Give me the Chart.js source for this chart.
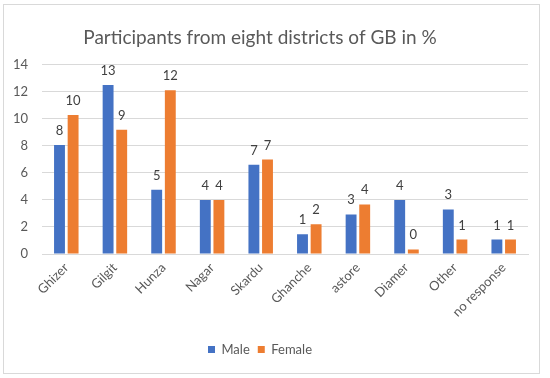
<!DOCTYPE html>
<html>
<head>
<meta charset="utf-8">
<script src="https://cdn.jsdelivr.net/npm/chart.js@4.4.1/dist/chart.umd.min.js"></script>
<style>
	html, body { margin:0; padding:0; background:#fff; overflow:hidden; width:550px; height:378px; }
	#frame { position:absolute; left:3px; top:4px; width:535px; height:368px; border:1px solid #d9d9d9; }
	#wrap { position:absolute; left:-8px; top:0; width:558px; height:378px; }
</style>
</head>
<body>
<div id="frame"></div>
<div id="wrap"><canvas id="chart" width="558" height="378"></canvas></div>
<script>
const TITLE = 'Participants from eight districts of GB in %';
const categories = ['Ghizer', 'Gilgit', 'Hunza', 'Nagar', 'Skardu', 'Ghanche', 'astore', 'Diamer', 'Other', 'no response'];
const male = [8.06, 12.5, 4.76, 4.0, 6.6, 1.47, 2.93, 4.0, 3.3, 1.07];
const female = [10.28, 9.19, 12.12, 4.0, 6.99, 2.2, 3.67, 0.34, 1.07, 1.07];
const yTicks = [0, 2, 4, 6, 8, 10, 12, 14];

const FONT = 'Lato, "Open Sans", sans-serif';

// value labels above each bar, rounded like the original
const barLabels = {
	id: 'barLabels',
	afterDatasetsDraw(chart){
		const ctx = chart.ctx;
		ctx.save();
		ctx.font = '13px ' + FONT;
		ctx.fillStyle = '#404040';
		ctx.textAlign = 'center';
		ctx.textBaseline = 'alphabetic';
		chart.data.datasets.forEach((ds, i) => {
			chart.getDatasetMeta(i).data.forEach((bar, j) => {
				ctx.fillText(String(Math.round(ds.data[j])), bar.x, bar.y - 10);
			});
		});
		ctx.restore();
	}
};

new Chart(document.getElementById('chart'), {
	type: 'bar',
	data: {
		labels: categories,
		datasets: [
			{ label: 'Male', data: male, backgroundColor: '#4472C4', barPercentage: 0.8, categoryPercentage: 0.56 },
			{ label: 'Female', data: female, backgroundColor: '#ED7D31', barPercentage: 0.8, categoryPercentage: 0.56 }
		]
	},
	options: {
		responsive: false,
		animation: false,
		layout: { padding: { top: 0, right: 22, bottom: 12, left: 0 } },
		plugins: {
			title: { display: true, text: TITLE, color: '#595959', font: { family: FONT, size: 19, weight: 'normal' }, padding: { top: 26, bottom: 16 } },
			legend: {
				position: 'bottom',
				labels: { color: '#595959', font: { family: FONT, size: 13 }, boxWidth: 7, boxHeight: 7, padding: 8 }
			},
			tooltip: { enabled: false }
		},
		scales: {
			x: {
				afterFit: s => { s.height = 81; },
				grid: { display: false, drawTicks: false },
				border: { color: '#d9d9d9' },
				ticks: { color: '#595959', font: { family: FONT, size: 13 }, minRotation: 45, maxRotation: 45, padding: 6 }
			},
			y: {
				min: 0, max: 14,
				afterBuildTicks: s => { s.ticks = yTicks.map(v => ({ value: v })); },
				afterFit: s => { s.width = 50; },
				grid: { color: '#d9d9d9', drawTicks: false },
				border: { display: false },
				ticks: { color: '#595959', font: { family: FONT, size: 13 }, padding: 14 }
			}
		}
	},
	plugins: [barLabels]
});
</script>
</body>
</html>
